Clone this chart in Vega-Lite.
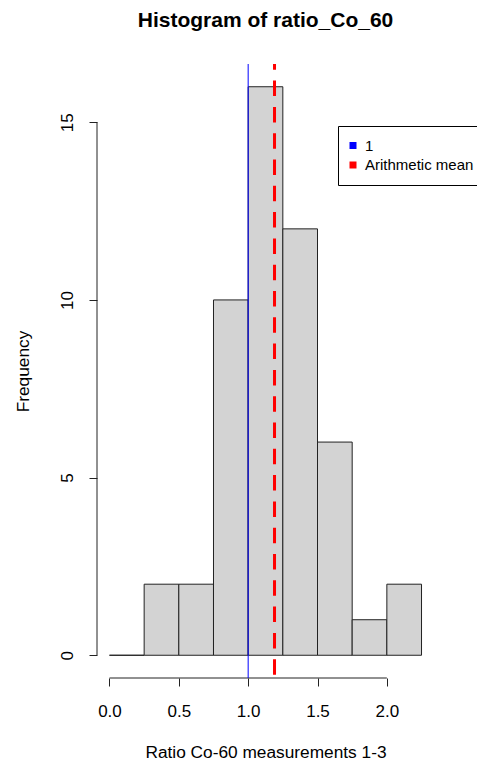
{
  "$schema": "https://vega.github.io/schema/vega-lite/v6.json",
  "width": 337,
  "height": 614,
  "autosize": {"type": "none"},
  "padding": {"left": 97, "top": 64, "right": 43, "bottom": 83},
  "background": "white",
  "config": {"view": {"stroke": null}, "font": "Liberation Sans"},
  "title": {"text": "Histogram of ratio_Co_60", "fontSize": 21, "fontWeight": "bold", "font": "Liberation Sans", "color": "black", "anchor": "middle", "baseline": "alphabetic", "offset": 15},
  "layer": [
    {
      "data": {"values": [
        {"start": 0.0, "end": 0.25, "count": 0},
        {"start": 0.25, "end": 0.5, "count": 2},
        {"start": 0.5, "end": 0.75, "count": 2},
        {"start": 0.75, "end": 1.0, "count": 10},
        {"start": 1.0, "end": 1.25, "count": 16},
        {"start": 1.25, "end": 1.5, "count": 12},
        {"start": 1.5, "end": 1.75, "count": 6},
        {"start": 1.75, "end": 2.0, "count": 1},
        {"start": 2.0, "end": 2.25, "count": 2}
      ]},
      "mark": {"type": "rect", "fill": "#d3d3d3", "stroke": "#222", "strokeWidth": 1},
      "encoding": {
        "x": {"field": "start", "type": "quantitative",
          "scale": {"domain": [-0.09, 2.34], "nice": false, "zero": false},
          "axis": {"title": "Ratio Co-60 measurements 1-3", "values": [0, 0.5, 1, 1.5, 2], "format": ".1f", "domain": false, "grid": false, "ticks": true, "tickSize": 8, "tickColor": "#222", "labelFontSize": 17, "labelColor": "black", "labelBaseline": "alphabetic", "labelPadding": 30, "labelFont": "Liberation Sans", "labelFlush": false, "labelOverlap": false, "titleFontSize": 17.3, "titleFontWeight": "normal", "titleColor": "black", "titleFont": "Liberation Sans", "titleY": 79, "titleBaseline": "alphabetic"}},
        "x2": {"field": "end"},
        "y": {"field": "count", "type": "quantitative",
          "scale": {"domain": [-0.64, 16.64], "nice": false, "zero": false},
          "axis": {"title": "Frequency", "values": [0, 5, 10, 15], "domain": false, "grid": false, "tickSize": 8, "tickColor": "#222", "labelAngle": 270, "labelAlign": "center", "labelBaseline": "alphabetic", "labelPadding": 17, "labelFontSize": 17, "labelColor": "black", "labelFont": "Liberation Sans", "titleFontSize": 17.3, "titleFontWeight": "normal", "titleColor": "black", "titleFont": "Liberation Sans", "titleX": -68.5, "titleY": 307, "titleAngle": 270, "titleBaseline": "alphabetic", "titleAlign": "center"}},
        "y2": {"datum": 0}
      }
    },
    {
      "data": {"values": [{}]},
      "mark": {"type": "rule", "color": "#222", "strokeWidth": 1},
      "encoding": {"x": {"datum": 0}, "x2": {"datum": 2}, "y": {"datum": -0.64}}
    },
    {
      "data": {"values": [{}]},
      "mark": {"type": "rule", "color": "#222", "strokeWidth": 1},
      "encoding": {"x": {"datum": -0.09}, "y": {"datum": 0}, "y2": {"datum": 15}}
    },
    {
      "data": {"values": [{"series": "1", "value": 1.0}]},
      "mark": {"type": "rule", "strokeWidth": 1},
      "encoding": {
        "x": {"field": "value", "type": "quantitative"},
        "color": {"field": "series", "type": "nominal",
          "scale": {"domain": ["1", "Arithmetic mean"], "range": ["blue", "red"]},
          "legend": {"orient": "none", "legendX": 241, "legendY": 62, "title": null, "padding": 12, "strokeColor": "black", "fillColor": "white", "symbolType": "square", "symbolSize": 49, "symbolStrokeWidth": 0, "symbolOffset": -4.5, "labelFontSize": 15, "labelOffset": 4.5, "rowPadding": 3.5, "labelColor": "black", "labelFont": "Liberation Sans", "labelLimit": 300, "cornerRadius": 0,
            "encode": {"symbols": {"update": {"fill": {"scale": "color", "field": "value"}, "stroke": {"value": "transparent"}, "opacity": {"value": 1}}}}}}
      }
    },
    {
      "data": {"values": [{"series": "Arithmetic mean", "value": 1.19}]},
      "mark": {"type": "rule", "strokeWidth": 3, "strokeDash": [15.5, 10.8], "strokeDashOffset": 9.7, "strokeCap": "butt"},
      "encoding": {
        "x": {"field": "value", "type": "quantitative"},
        "color": {"field": "series", "type": "nominal"}
      }
    }
  ]
}
